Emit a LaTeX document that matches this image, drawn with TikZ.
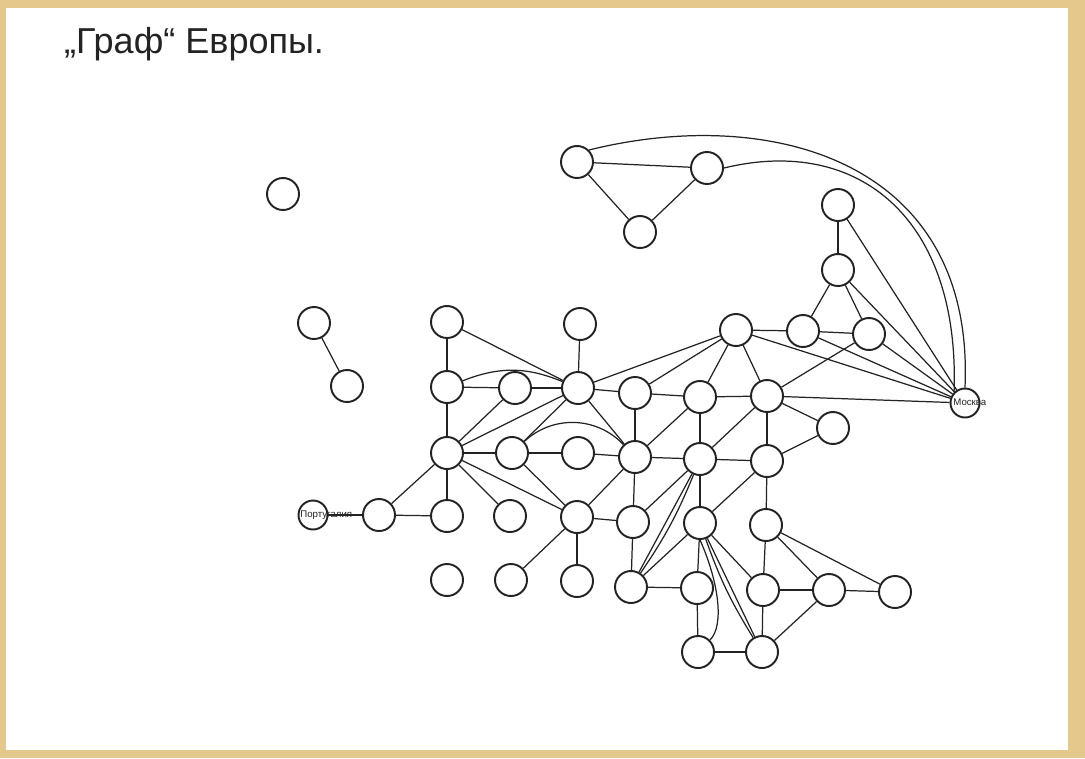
\documentclass[tikz,border=0pt]{standalone}
\usepackage{fontspec}
\setmainfont{Liberation Sans}
\usepackage{tikz}
\usepackage{xcolor}
\usetikzlibrary{backgrounds}
\definecolor{frametan}{RGB}{228,200,140}
\definecolor{ink}{RGB}{35,35,35}
\tikzset{
  city/.style={circle, draw=ink, line width=1.1pt, fill=white,
               minimum size=0.64cm, inner sep=0pt},
  small/.style={city, minimum size=0.58cm},
  edge/.style={draw=ink, line width=0.7pt},
  tag/.style={font=\fontsize{5.5}{5.5}\selectfont, inner sep=0pt, text=ink},
  headline/.style={font=\fontsize{20.5}{20.5}\selectfont, text=ink, anchor=west},
}

\begin{document}
\begin{tikzpicture}[x=0.02cm, y=-0.02cm]
  \useasboundingbox (0,0) rectangle (1085,758);
  \fill[frametan] (0,0) rectangle (1085,758);
  \fill[white] (6,8) rectangle (1068,750);

  \node[headline] (title) at (58,44) {„Граф“ Европы.};

  % north
  \node[city] (nor) at (577,162) {};
  \node[city] (fin) at (707,168) {};
  \node[city] (swe) at (640,232) {};
  \node[city] (isl) at (283,194) {};
  \node[city] (gbr) at (314,323) {};
  \node[city] (irl) at (347,386) {};
  % east
  \node[city]  (est) at (838,205) {};
  \node[city]  (lva) at (838,270) {};
  \node[city]  (pol) at (736,330) {};
  \node[city]  (ltu) at (803,331) {};
  \node[city]  (blr) at (869,334) {};
  \node[small] (rus) at (965,403) {};
  \node[tag, anchor=west] (rustag) at (953,402) {Москва};
  % middle rows
  \node[city] (nld) at (447,322) {};
  \node[city] (dnk) at (580,324) {};
  \node[city] (bel) at (447,387) {};
  \node[city] (lux) at (515,388) {};
  \node[city] (deu) at (578,388) {};
  \node[city] (cze) at (635,393) {};
  \node[city] (svk) at (700,397) {};
  \node[city] (ukr) at (767,396) {};
  \node[city] (mda) at (833,428) {};
  \node[city] (fra) at (447,453) {};
  \node[city] (che) at (512,453) {};
  \node[city] (lie) at (578,453) {};
  \node[city] (aut) at (635,457) {};
  \node[city] (hun) at (700,459) {};
  \node[city] (rou) at (767,461) {};
  \node[small] (prt) at (313,515) {};
  \node[tag, anchor=west] (prttag) at (300,515) {Португалия};
  \node[city] (esp) at (379,515) {};
  \node[city] (and) at (447,516) {};
  \node[city] (mco) at (510,516) {};
  \node[city] (ita) at (577,517) {};
  \node[city] (svn) at (633,522) {};
  \node[city] (srb) at (700,523) {};
  \node[city] (bgr) at (766,525) {};
  % south
  \node[city] (mlt) at (447,580) {};
  \node[city] (smr) at (511,580) {};
  \node[city] (vat) at (577,581) {};
  \node[city] (hrv) at (631,587) {};
  \node[city] (bih) at (697,588) {};
  \node[city] (mkd) at (763,590) {};
  \node[city] (grc) at (829,590) {};
  \node[city] (tur) at (895,592) {};
  \node[city] (mne) at (698,652) {};
  \node[city] (alb) at (762,652) {};

  \draw[edge] (nor) -- (fin);
  \draw[edge] (nor) -- (swe);
  \draw[edge] (fin) -- (swe);
  \draw[edge] (nor.north east) .. controls (770,105) and (975,160) .. (rus.north);
  \draw[edge] (fin.east) .. controls (860,135) and (960,220) .. (rus.north west);
  \draw[edge] (gbr) -- (irl);

  \draw[edge] (est) -- (lva);
  \draw[edge] (est) -- (rus);
  \draw[edge] (lva) -- (ltu);
  \draw[edge] (lva) -- (blr);
  \draw[edge] (lva) -- (rus);
  \draw[edge] (ltu) -- (blr);
  \draw[edge] (ltu) -- (rus);
  \draw[edge] (blr) -- (rus);
  \draw[edge] (pol) -- (ltu);
  \draw[edge] (pol) -- (rus);
  \draw[edge] (pol) -- (deu);
  \draw[edge] (pol) -- (cze);
  \draw[edge] (pol) -- (svk);
  \draw[edge] (pol) -- (ukr);

  \draw[edge] (nld) -- (bel);
  \draw[edge] (nld) -- (deu);
  \draw[edge] (dnk) -- (deu);
  \draw[edge] (bel) -- (lux);
  \draw[edge] (bel) to[bend left=22] (deu);
  \draw[edge] (bel) -- (fra);
  \draw[edge] (lux) -- (deu);
  \draw[edge] (lux) -- (fra);
  \draw[edge] (deu) -- (fra);
  \draw[edge] (deu) -- (che);
  \draw[edge] (deu) -- (aut);
  \draw[edge] (deu) -- (cze);
  \draw[edge] (cze) -- (svk);
  \draw[edge] (cze) -- (aut);
  \draw[edge] (svk) -- (ukr);
  \draw[edge] (svk) -- (aut);
  \draw[edge] (svk) -- (hun);
  \draw[edge] (ukr) -- (blr);
  \draw[edge] (ukr) -- (rus);
  \draw[edge] (ukr) -- (mda);
  \draw[edge] (ukr) -- (hun);
  \draw[edge] (ukr) -- (rou);
  \draw[edge] (mda) -- (rou);

  \draw[edge] (fra) -- (che);
  \draw[edge] (fra) -- (esp);
  \draw[edge] (fra) -- (and);
  \draw[edge] (fra) -- (mco);
  \draw[edge] (fra) -- (ita);
  \draw[edge] (che) -- (lie);
  \draw[edge] (che) to[bend left=45] (aut);
  \draw[edge] (che) -- (ita);
  \draw[edge] (lie) -- (aut);
  \draw[edge] (aut) -- (hun);
  \draw[edge] (aut) -- (ita);
  \draw[edge] (aut) -- (svn);
  \draw[edge] (hun) -- (rou);
  \draw[edge] (hun) -- (svn);
  \draw[edge] (hun) -- (srb);
  \draw[edge] (hun) -- (hrv);
  \draw[edge] (hun) to[bend left=6] (hrv);
  \draw[edge] (rou) -- (srb);
  \draw[edge] (rou) -- (bgr);

  \draw[edge] (prt) -- (esp);
  \draw[edge] (esp) -- (and);
  \draw[edge] (ita) -- (svn);
  \draw[edge] (ita) -- (smr);
  \draw[edge] (ita) -- (vat);
  \draw[edge] (svn) -- (hrv);
  \draw[edge] (srb) -- (hrv);
  \draw[edge] (srb) -- (bih);
  \draw[edge] (srb) -- (mkd);
  \draw[edge] (srb.south) .. controls (718,580) and (725,625) .. (mne.north east);
  \draw[edge] (srb) -- (alb);
  \draw[edge] (srb) to[bend right=6] (alb);
  \draw[edge] (bgr) -- (mkd);
  \draw[edge] (bgr) -- (grc);
  \draw[edge] (bgr) -- (tur);

  \draw[edge] (hrv) -- (bih);
  \draw[edge] (bih) -- (mne);
  \draw[edge] (mne) -- (alb);
  \draw[edge] (mkd) -- (grc);
  \draw[edge] (mkd) -- (alb);
  \draw[edge] (grc) -- (tur);
  \draw[edge] (grc) -- (alb);
\end{tikzpicture}
\end{document}
